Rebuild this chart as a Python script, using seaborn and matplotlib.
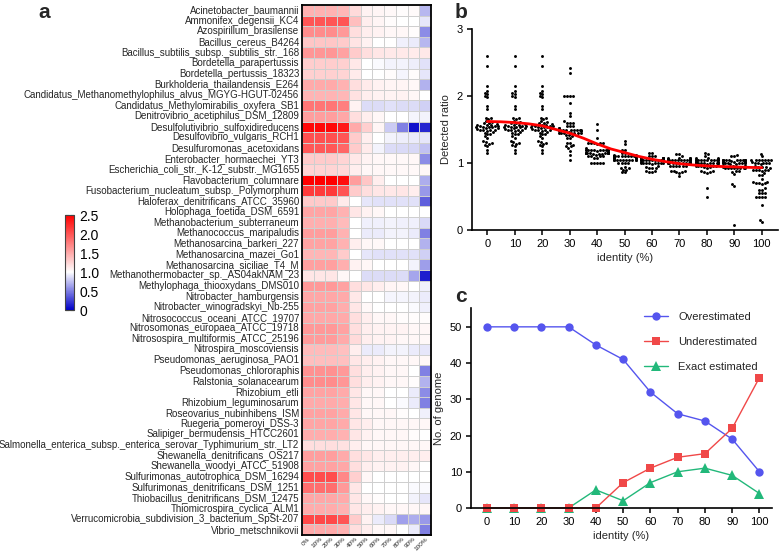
import numpy as np
import pandas as pd
import seaborn as sns
import matplotlib.pyplot as plt
from matplotlib.colors import LinearSegmentedColormap

genomes = [
    "Acinetobacter_baumannii", "Ammonifex_degensii_KC4", "Azospirillum_brasilense",
    "Bacillus_cereus_B4264", "Bacillus_subtilis_subsp._subtilis_str._168",
    "Bordetella_parapertussis", "Bordetella_pertussis_18323", "Burkholderia_thailandensis_E264",
    "Candidatus_Methanomethylophilus_alvus_MGYG-HGUT-02456", "Candidatus_Methylomirabilis_oxyfera_SB1",
    "Denitrovibrio_acetiphilus_DSM_12809", "Desulfolutivibrio_sulfoxidireducens",
    "Desulfovibrio_vulgaris_RCH1", "Desulfuromonas_acetoxidans", "Enterobacter_hormaechei_YT3",
    "Escherichia_coli_str._K-12_substr._MG1655", "Flavobacterium_columnare",
    "Fusobacterium_nucleatum_subsp._Polymorphum", "Haloferax_denitrificans_ATCC_35960",
    "Holophaga_foetida_DSM_6591", "Methanobacterium_subterraneum", "Methanococcus_maripaludis",
    "Methanosarcina_barkeri_227", "Methanosarcina_mazei_Go1", "Methanosarcina_siciliae_T4_M",
    "Methanothermobacter_sp._AS04akNAM_23", "Methylophaga_thiooxydans_DMS010",
    "Nitrobacter_hamburgensis", "Nitrobacter_winogradskyi_Nb-255", "Nitrosococcus_oceani_ATCC_19707",
    "Nitrosomonas_europaea_ATCC_19718", "Nitrosospira_multiformis_ATCC_25196",
    "Nitrospira_moscoviensis", "Pseudomonas_aeruginosa_PAO1", "Pseudomonas_chlororaphis",
    "Ralstonia_solanacearum", "Rhizobium_etli", "Rhizobium_leguminosarum",
    "Roseovarius_nubinhibens_ISM", "Ruegeria_pomeroyi_DSS-3", "Salipiger_bermudensis_HTCC2601",
    "Salmonella_enterica_subsp._enterica_serovar_Typhimurium_str._LT2",
    "Shewanella_denitrificans_OS217", "Shewanella_woodyi_ATCC_51908",
    "Sulfurimonas_autotrophica_DSM_16294", "Sulfurimonas_denitrificans_DSM_1251",
    "Thiobacillus_denitrificans_DSM_12475", "Thiomicrospira_cyclica_ALM1",
    "Verrucomicrobia_subdivision_3_bacterium_SpSt-207", "Vibrio_metschnikovii",
]
identity = [0, 10, 20, 30, 40, 50, 60, 70, 80, 90, 100]
identity_labels = ["0%", "10%", "20%", "30%", "40%", "50%", "60%", "70%", "80%", "90%", "100%"]

# detected ratio per genome, columns = identity 0..100 %
ratio_rows = [
    [1.45, 1.45, 1.45, 1.42, 1.22, 1.08, 1.06, 1.04, 1.02, 1.03, 0.72],
    [2.00, 2.00, 2.00, 2.00, 1.38, 1.10, 1.06, 1.02, 1.00, 1.00, 0.90],
    [1.67, 1.67, 1.67, 1.60, 1.20, 1.10, 1.08, 1.05, 1.05, 1.02, 0.55],
    [1.33, 1.33, 1.33, 1.30, 1.16, 1.08, 1.00, 1.00, 0.94, 0.92, 0.72],
    [1.62, 1.62, 1.62, 1.55, 1.30, 1.20, 1.15, 1.13, 1.13, 1.12, 1.14],
    [1.29, 1.29, 1.29, 1.27, 1.14, 1.00, 0.98, 0.95, 0.95, 0.93, 0.88],
    [1.27, 1.27, 1.27, 1.25, 1.12, 1.00, 1.00, 1.02, 0.96, 1.02, 0.90],
    [1.50, 1.50, 1.50, 1.45, 1.20, 1.12, 1.08, 1.06, 1.06, 1.04, 0.70],
    [1.44, 1.44, 1.44, 1.42, 1.18, 1.10, 1.08, 1.07, 1.08, 1.05, 1.00],
    [1.80, 1.80, 1.80, 1.75, 1.08, 0.86, 0.86, 0.88, 0.86, 0.86, 0.82],
    [1.57, 1.57, 1.57, 1.52, 1.20, 1.10, 1.05, 1.00, 1.00, 0.96, 0.95],
    [2.45, 2.45, 2.45, 2.35, 1.50, 1.28, 1.06, 0.80, 0.50, 0.07, 0.15],
    [2.03, 2.03, 2.03, 2.00, 1.30, 1.10, 1.00, 0.95, 0.93, 0.92, 0.90],
    [1.98, 1.98, 1.98, 1.90, 1.30, 1.12, 0.95, 0.86, 0.85, 0.84, 0.76],
    [1.30, 1.30, 1.30, 1.25, 1.14, 1.07, 1.05, 1.04, 1.04, 1.05, 0.55],
    [1.25, 1.25, 1.25, 1.22, 1.10, 1.05, 1.05, 1.04, 1.04, 1.04, 1.05],
    [2.60, 2.60, 2.60, 2.42, 1.58, 1.33, 1.10, 1.00, 1.00, 1.00, 0.68],
    [2.15, 2.15, 2.15, 2.00, 1.30, 1.20, 1.15, 1.14, 1.15, 1.10, 0.60],
    [1.31, 1.31, 1.31, 1.12, 1.00, 0.90, 0.88, 0.88, 0.88, 0.88, 0.38],
    [1.53, 1.53, 1.53, 1.45, 1.15, 1.08, 1.05, 1.00, 1.00, 1.00, 1.00],
    [1.47, 1.47, 1.47, 1.40, 1.00, 0.94, 0.94, 0.95, 0.94, 0.94, 0.85],
    [1.58, 1.58, 1.58, 1.45, 1.00, 0.92, 0.92, 0.95, 0.95, 0.92, 0.50],
    [1.54, 1.54, 1.54, 1.45, 1.10, 1.05, 1.04, 1.00, 1.00, 1.00, 0.70],
    [1.43, 1.43, 1.43, 1.30, 1.00, 0.90, 0.88, 0.88, 0.88, 0.88, 0.82],
    [1.56, 1.56, 1.56, 1.47, 1.08, 1.05, 1.00, 1.00, 1.00, 0.95, 0.62],
    [1.15, 1.15, 1.15, 1.05, 1.00, 0.86, 0.86, 0.86, 0.86, 0.65, 0.12],
    [1.60, 1.60, 1.60, 1.55, 1.20, 1.15, 1.10, 1.06, 1.05, 1.00, 0.94],
    [1.52, 1.52, 1.52, 1.50, 1.14, 1.00, 1.00, 0.96, 0.96, 0.95, 0.92],
    [1.55, 1.55, 1.55, 1.48, 1.15, 1.04, 1.00, 1.00, 1.00, 0.98, 0.94],
    [1.51, 1.51, 1.51, 1.50, 1.20, 1.10, 1.05, 1.05, 1.02, 1.02, 1.02],
    [1.61, 1.61, 1.61, 1.55, 1.20, 1.10, 1.08, 1.07, 1.07, 1.05, 1.05],
    [1.59, 1.59, 1.59, 1.50, 1.22, 1.10, 1.08, 1.07, 1.05, 1.05, 1.04],
    [1.40, 1.40, 1.40, 1.37, 1.10, 0.92, 0.92, 0.95, 0.95, 0.92, 0.90],
    [1.38, 1.38, 1.38, 1.37, 1.15, 1.10, 1.08, 1.05, 1.05, 1.05, 1.05],
    [1.65, 1.65, 1.65, 1.60, 1.20, 1.10, 1.08, 1.05, 1.05, 1.00, 0.50],
    [1.67, 1.67, 1.67, 1.62, 1.20, 1.10, 1.08, 1.05, 1.05, 1.02, 0.70],
    [1.54, 1.54, 1.54, 1.50, 1.15, 1.05, 1.05, 1.00, 1.00, 0.92, 0.55],
    [1.50, 1.50, 1.50, 1.48, 1.15, 1.05, 1.05, 1.00, 0.98, 0.92, 0.50],
    [1.55, 1.55, 1.55, 1.50, 1.15, 1.05, 1.05, 1.05, 1.02, 1.00, 0.94],
    [1.53, 1.53, 1.53, 1.50, 1.15, 1.10, 1.05, 1.05, 1.05, 1.05, 1.05],
    [1.48, 1.48, 1.48, 1.45, 1.15, 1.08, 1.05, 1.05, 1.05, 1.02, 1.00],
    [1.20, 1.20, 1.20, 1.18, 1.10, 1.05, 1.05, 1.05, 1.05, 1.05, 1.05],
    [1.57, 1.57, 1.57, 1.50, 1.20, 1.15, 1.10, 1.10, 1.10, 1.10, 1.10],
    [1.55, 1.55, 1.55, 1.52, 1.20, 1.10, 1.08, 1.08, 1.08, 1.05, 1.00],
    [2.05, 2.05, 2.05, 1.70, 1.28, 1.05, 1.00, 1.00, 1.00, 1.00, 1.00],
    [1.85, 1.85, 1.85, 1.60, 1.15, 1.00, 1.00, 1.00, 1.00, 0.98, 0.98],
    [1.52, 1.52, 1.52, 1.50, 1.15, 1.05, 1.02, 1.00, 1.00, 0.95, 0.90],
    [1.49, 1.49, 1.49, 1.45, 1.15, 1.10, 1.08, 1.05, 1.05, 1.05, 1.05],
    [2.08, 2.08, 2.08, 2.00, 1.30, 1.08, 0.92, 0.85, 0.63, 0.68, 0.60],
    [1.50, 1.50, 1.50, 1.45, 1.20, 1.10, 1.05, 1.05, 1.00, 0.92, 0.50],
]

# red fitted curve (identity %, ratio)
fit_identity = [0, 5, 10, 15, 20, 25, 30, 35, 40, 45, 50, 55, 60, 65, 70, 75, 80, 85, 90, 95, 100]
fit_ratio = [1.62, 1.615, 1.604, 1.585, 1.555, 1.50, 1.445, 1.37, 1.285, 1.21, 1.156,
             1.10, 1.056, 1.02, 0.99, 0.97, 0.957, 0.948, 0.942, 0.935, 0.93]

# panel c counts
overestimated = [50, 50, 50, 50, 45, 41, 32, 26, 24, 19, 10]
underestimated = [0, 0, 0, 0, 0, 7, 11, 14, 15, 22, 36]
exact_estimated = [0, 0, 0, 0, 5, 2, 7, 10, 11, 9, 4]

sns.set_theme(style="ticks")
plt.rcParams['font.family'] = ['Liberation Sans', 'DejaVu Sans']

W, H = 780, 552
fig = plt.figure(figsize=(7.8, 5.52), dpi=100)

def box(x0, y0, x1, y1):
    # pixel box (top-left origin) -> figure fraction
    return [x0 / W, 1 - y1 / H, (x1 - x0) / W, (y1 - y0) / H]

# ---- a: heatmap
ratio_df = pd.DataFrame(ratio_rows, index=genomes, columns=identity_labels)
cmap = LinearSegmentedColormap.from_list(
    "ratio_bwr", [(0.0, "#0000c8"), (0.4, "#ffffff"), (1.0, "#ff0000")])
ax_a = fig.add_axes(box(302, 5, 431, 535))
cax = fig.add_axes(box(65, 215, 74, 310))
sns.heatmap(ratio_df, ax=ax_a, cmap=cmap, vmin=0, vmax=2.5,
            linewidths=0.6, linecolor="#cfcfcf", cbar_ax=cax,
            xticklabels=True, yticklabels=True)
ax_a.tick_params(axis="both", length=0)
ax_a.tick_params(axis="y", labelsize=7, pad=2)
ax_a.set_xticklabels(identity_labels, rotation=45, ha="right",
                     rotation_mode="anchor", fontsize=4.6)
ax_a.tick_params(axis="x", pad=1)
ax_a.set_xlabel("")
ax_a.set_ylabel("")
for s in ax_a.spines.values():
    s.set_visible(True)
    s.set_linewidth(1.3)
    s.set_color("black")

cbar = ax_a.collections[0].colorbar
cbar.set_ticks([0, 0.5, 1.0, 1.5, 2.0, 2.5])
cbar.set_ticklabels(["0", "0.5", "1.0", "1.5", "2.0", "2.5"])
cax.tick_params(labelsize=10, length=3, width=0.8, direction="in",
                left=True, right=True, pad=4, colors="black")
cbar.outline.set_edgecolor("#444444")
cbar.outline.set_linewidth(0.8)

# ---- b: swarm of detected ratios + fitted curve
b_df = ratio_df.copy()
b_df.columns = [str(i) for i in identity]
b_long = b_df.melt(var_name="identity", value_name="ratio")
ax_b = fig.add_axes(box(472, 29, 778, 230))
sns.swarmplot(data=b_long, x="identity", y="ratio", order=[str(i) for i in identity],
              color="black", size=2.1, ax=ax_b, zorder=2, warn_thresh=1)
sns.lineplot(x=np.array(fit_identity) / 10, y=fit_ratio, color="#ff0000",
             linewidth=2, ax=ax_b, zorder=3)
ax_b.set_xlim(-0.56, 10.59)
ax_b.set_ylim(0, 3)
ax_b.set_yticks([0, 1, 2, 3])
ax_b.set_xlabel("identity (%)", fontsize=8, labelpad=3)
ax_b.set_ylabel("Detected ratio", fontsize=8, labelpad=4)

# ---- c: counts
ax_c = fig.add_axes(box(471, 308, 772, 508))
sns.lineplot(x=identity, y=overestimated, color="#5555ee", marker="o", markersize=6,
             markeredgewidth=0, linewidth=1, label="Overestimated", ax=ax_c, clip_on=False)
sns.lineplot(x=identity, y=exact_estimated, color="#22b87a", marker="^", markersize=6.5,
             markeredgewidth=0, linewidth=1, label="Exact estimated", ax=ax_c, clip_on=False)
sns.lineplot(x=identity, y=underestimated, color="#f04848", marker="s", markersize=6,
             markeredgewidth=0, linewidth=1, label="Underestimated", ax=ax_c, clip_on=False)
handles, labels = ax_c.get_legend_handles_labels()
order = [0, 2, 1]
ax_c.legend([handles[i] for i in order], [labels[i] for i in order],
            loc="upper left", bbox_to_anchor=(634 / W, 1 - 302 / H),
            bbox_transform=fig.transFigure, frameon=False, fontsize=8,
            labelspacing=1.35, handlelength=2.2, handletextpad=0.9)
ax_c.set_xlim(-5.8, 104.6)
ax_c.set_ylim(0, 55.2)
ax_c.set_xticks(identity)
ax_c.set_yticks([0, 10, 20, 30, 40, 50])
ax_c.set_xlabel("identity (%)", fontsize=8, labelpad=3)
ax_c.set_ylabel("No. of genome", fontsize=8, labelpad=4)

for ax in (ax_b, ax_c):
    sns.despine(ax=ax)
    for s in ("left", "bottom"):
        ax.spines[s].set_linewidth(1.2)
        ax.spines[s].set_color("black")
    ax.tick_params(labelsize=8, length=3.5, width=1.1, colors="black", pad=3)

fig.text(38 / W, 1 - 3 / H, "a", fontsize=15, fontweight="bold", va="top")
fig.text(455 / W, 1 - 3 / H, "b", fontsize=15, fontweight="bold", va="top")
fig.text(455 / W, 1 - 287 / H, "c", fontsize=15, fontweight="bold", va="top")

fig.savefig("out.png", dpi=100)
